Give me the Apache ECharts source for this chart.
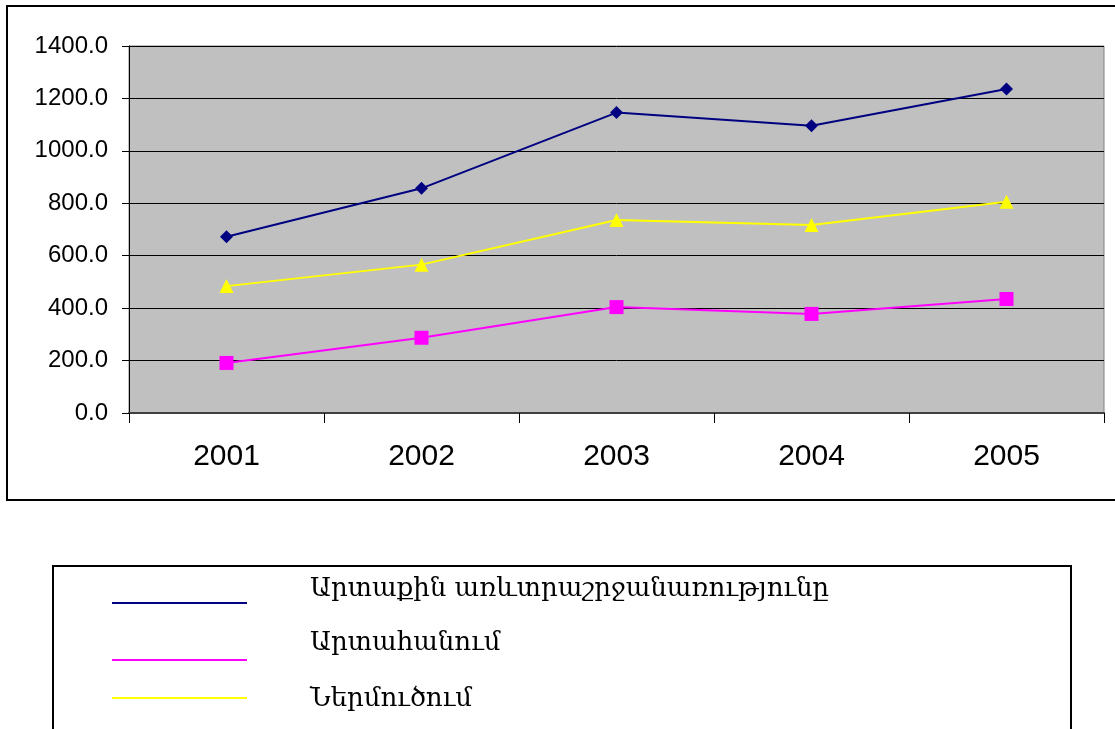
<!DOCTYPE html>
<html>
<head>
<meta charset="utf-8">
<script src="https://cdn.jsdelivr.net/npm/echarts@6/dist/echarts.min.js"></script>
<style>
  html, body { margin: 0; padding: 0; background: #fff; }
  #chart { width: 1115px; height: 729px; }
</style>
</head>
<body>
<div id="chart"></div>
<script>
// data
var years = ['2001', '2002', '2003', '2004', '2005'];
var seriesNames = ['Արտաքին առևտրաշրջանառությունը', 'Արտահանում', 'Ներմուծում'];
var turnover = [672, 857, 1146, 1096, 1236];
var exportVals = [191, 287, 404, 378, 435];
var importVals = [484, 566, 736, 717, 806];
var yTicks = [0, 200, 400, 600, 800, 1000, 1200, 1400];

var colors = ['#000080', '#ff00ff', '#ffff00'];

var myChart = echarts.init(document.getElementById('chart'));

// legend drawn by hand: line and text sit at different heights like the original
var legendLineY = [603, 660, 698];
var legendTextY = [589, 643, 699];
var legendGraphics = [
  { type: 'rect', shape: { x: 7, y: 6, width: 1120, height: 494 }, style: { fill: null, stroke: '#000', lineWidth: 2 }, z: 0, silent: true },
  { type: 'rect', shape: { x: 53, y: 566, width: 1018, height: 200 }, style: { fill: null, stroke: '#000', lineWidth: 2 }, silent: true }
];
seriesNames.forEach(function (name, i) {
  legendGraphics.push({
    type: 'line',
    shape: { x1: 112, y1: legendLineY[i], x2: 247, y2: legendLineY[i] },
    style: { stroke: colors[i], lineWidth: 2 }
  });
  legendGraphics.push({
    type: 'text',
    x: 310, y: legendTextY[i],
    style: { text: name, fill: '#000', font: '26px "DejaVu Serif", serif', textVerticalAlign: 'middle' }
  });
});

function makeSeries(name, data, color, symbol, size) {
  return {
    name: name, type: 'line', data: data,
    symbol: symbol, symbolSize: size,
    lineStyle: { color: color, width: 2 },
    itemStyle: { color: color },
    animation: false
  };
}

var option = {
  backgroundColor: '#fff',
  grid: {
    left: 129, top: 46, width: 975, height: 367,
    show: true, backgroundColor: '#c0c0c0', borderColor: '#808080', borderWidth: 1
  },
  xAxis: {
    type: 'category', data: years, boundaryGap: true,
    axisLine: { lineStyle: { color: '#404040', width: 2 } },
    axisTick: { show: true, length: 10, lineStyle: { color: '#000' } },
    axisLabel: { color: '#000', fontSize: 30, fontFamily: 'Liberation Sans, Arial', margin: 29 }
  },
  yAxis: {
    type: 'value', min: yTicks[0], max: yTicks[yTicks.length - 1], interval: 200,
    axisLine: { show: true, lineStyle: { color: '#000', width: 1 } },
    axisTick: { show: true, inside: false, length: 7, lineStyle: { color: '#000' } },
    axisLabel: {
      color: '#000', fontSize: 24, fontFamily: 'Liberation Sans, Arial', margin: 21,
      formatter: function (v) { return v.toFixed(1); }
    },
    splitLine: { show: true, lineStyle: { color: '#000', width: 1 } }
  },
  series: [
    makeSeries(seriesNames[0], turnover, colors[0], 'diamond', 13),
    makeSeries(seriesNames[1], exportVals, colors[1], 'rect', 14),
    makeSeries(seriesNames[2], importVals, colors[2], 'triangle', 14)
  ],
  graphic: legendGraphics
};

myChart.setOption(option);
</script>
</body>
</html>
